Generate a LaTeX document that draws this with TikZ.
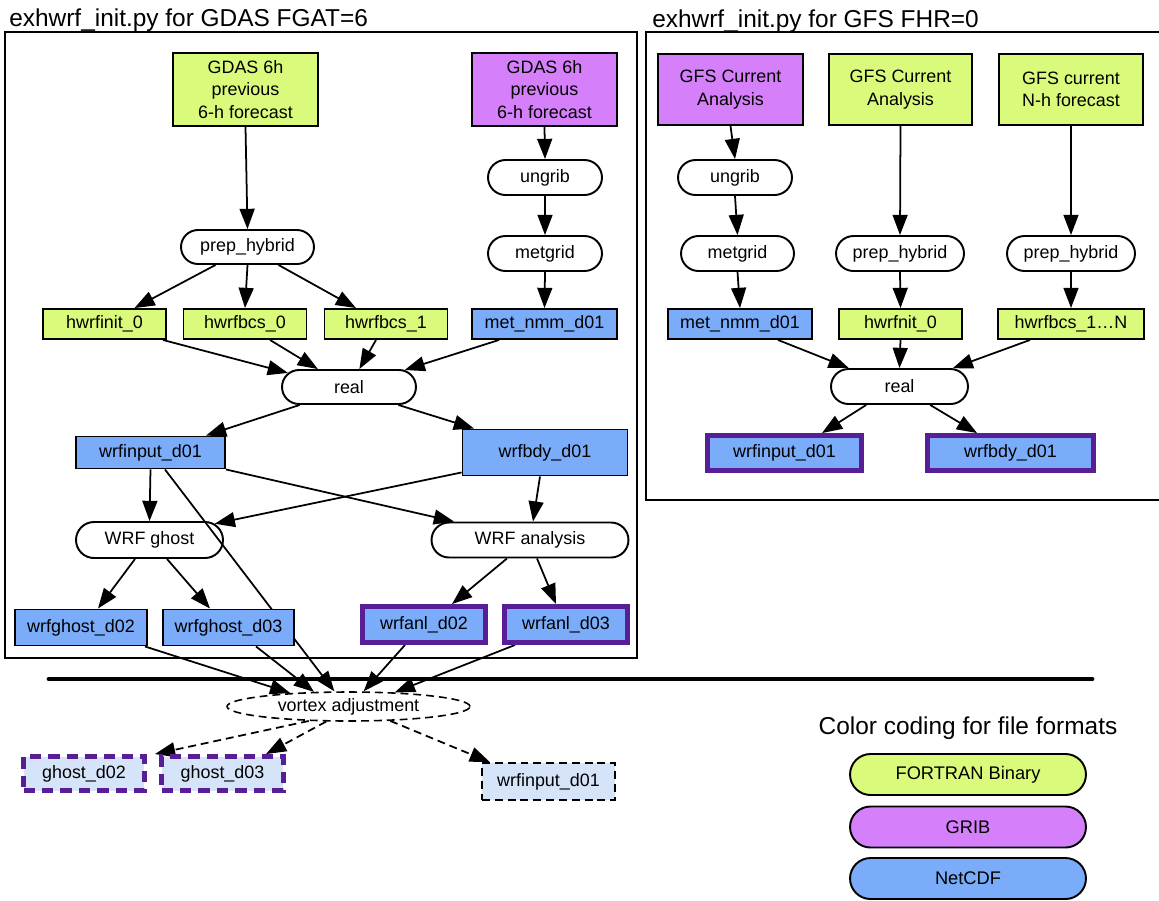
\documentclass[tikz,border=0pt]{standalone}
\usepackage{fontspec}
\setmainfont{Liberation Sans}
\usetikzlibrary{arrows.meta,shapes.misc,shapes.geometric,backgrounds}
\definecolor{fgreen}{RGB}{217,250,122}
\definecolor{fgrib}{RGB}{213,128,250}
\definecolor{fcdf}{RGB}{122,172,250}
\definecolor{fpale}{RGB}{214,228,250}
\definecolor{fpurp}{RGB}{88,30,150}
\begin{document}
\begin{tikzpicture}[x=0.02cm, y=-0.02cm, >={Triangle[length=11.5pt,width=8.5pt]},
    every node/.style={font=\fontsize{10.2}{12.7}\selectfont, inner sep=0pt},
    file/.style={rectangle, draw, line width=1.1pt, align=center, minimum height=0.6cm},
    proc/.style={rounded rectangle, draw, line width=1.1pt, minimum height=0.7cm},
    hot/.style={draw=fpurp, line width=2.8pt},
    conn/.style={->, line width=1pt},
    dconn/.style={->, line width=1pt, dash pattern=on 4.5pt off 2.8pt},
    legend/.style={rounded rectangle, draw, line width=1.1pt, minimum width=4.72cm, minimum height=0.82cm, font=\fontsize{10.4}{12}\selectfont},
    ttl/.style={anchor=base west, font=\fontsize{13.9}{16}\selectfont}]
    \useasboundingbox (0,0) rectangle (1159,900);
    % frames and titles
    \node[ttl] (ttlL) at (9,26) {exhwrf\_init.py for GDAS FGAT=6};
    \node[ttl] (ttlR) at (652,27) {exhwrf\_init.py for GFS FHR=0};
    \draw[line width=0.9pt] (5,32) rectangle (637,658);
    \draw[line width=0.9pt] (1165,32) -- (646,32) -- (646,500) -- (1165,500);
    % GDAS FGAT=6
    \node[file, fill=fgreen, minimum width=2.9cm, minimum height=1.46cm] (gdasA) at (245.5,89.5) {GDAS 6h\\previous\\6-h forecast};
    \node[file, fill=fgrib, minimum width=2.9cm, minimum height=1.46cm] (gdasB) at (544.5,89.5) {GDAS 6h\\previous\\6-h forecast};
    \node[proc, minimum width=2.28cm] (ungribL) at (545,177.5) {ungrib};
    \node[proc, minimum width=2.28cm] (metgridL) at (545,253.5) {metgrid};
    \node[proc, minimum width=2.66cm, minimum height=0.68cm] (prepL) at (247.5,247) {prep\_hybrid};
    \node[file, fill=fgreen, minimum width=2.46cm] (hinitL) at (104.5,324) {hwrfinit\_0};
    \node[file, fill=fgreen, minimum width=2.46cm] (bcs0L) at (245,324) {hwrfbcs\_0};
    \node[file, fill=fgreen, minimum width=2.46cm] (bcs1L) at (386,324) {hwrfbcs\_1};
    \node[file, fill=fcdf, minimum width=2.9cm] (metL) at (544.5,324) {met\_nmm\_d01};
    \node[proc, minimum width=2.68cm, minimum height=0.68cm] (realL) at (349,387) {real};
    \node[file, fill=fcdf, minimum width=2.98cm, minimum height=0.64cm] (winL) at (150.5,452.5) {wrfinput\_d01};
    \node[file, fill=fcdf, minimum width=3.3cm, minimum height=0.92cm] (bdyL) at (545,452.5) {wrfbdy\_d01};
    \node[proc, minimum width=2.94cm, minimum height=0.72cm] (ghost) at (149.5,540) {WRF ghost};
    \node[proc, minimum width=3.94cm] (anal) at (530,540) {WRF analysis};
    \node[file, fill=fcdf, minimum width=2.64cm, minimum height=0.72cm] (wg02) at (81,627.5) {wrfghost\_d02};
    \node[file, fill=fcdf, minimum width=2.62cm, minimum height=0.72cm] (wg03) at (228.5,627.5) {wrfghost\_d03};
    \node[file, hot, fill=fcdf, minimum width=2.46cm, minimum height=0.72cm] (anl02) at (424,624.5) {wrfanl\_d02};
    \node[file, hot, fill=fcdf, minimum width=2.46cm, minimum height=0.72cm] (anl03) at (566,624.5) {wrfanl\_d03};
    % vortex adjustment
    \node[ellipse, draw, line width=0.9pt, dash pattern=on 4.5pt off 2.8pt, minimum width=4.86cm, minimum height=0.58cm] (vortex) at (348.5,706.5) {vortex adjustment};
    \node[file, fill=fpale, draw=fpurp, line width=2.8pt, dash pattern=on 6.5pt off 4pt, minimum width=2.42cm, minimum height=0.68cm] (gd02) at (84,773.5) {ghost\_d02};
    \node[file, fill=fpale, draw=fpurp, line width=2.8pt, dash pattern=on 6.5pt off 4pt, minimum width=2.44cm, minimum height=0.68cm] (gd03) at (222.5,773.5) {ghost\_d03};
    \node[file, fill=fpale, line width=0.9pt, dash pattern=on 4.5pt off 2.8pt, minimum width=2.66cm, minimum height=0.74cm] (winD) at (548.5,781.5) {wrfinput\_d01};
    % GFS FHR=0
    \node[file, fill=fgrib, minimum width=2.9cm, minimum height=1.42cm] (gfsP) at (730.5,89.5) {GFS Current\\Analysis};
    \node[file, fill=fgreen, minimum width=2.86cm, minimum height=1.42cm] (gfsG) at (900.5,89.5) {GFS Current\\Analysis};
    \node[file, fill=fgreen, minimum width=2.88cm, minimum height=1.42cm] (gfsN) at (1071,89.5) {GFS current\\N-h forecast};
    \node[proc, minimum width=2.28cm] (ungribR) at (735,177.5) {ungrib};
    \node[proc, minimum width=2.26cm] (metgridR) at (737.5,253.5) {metgrid};
    \node[proc, minimum width=2.56cm] (prepR1) at (900,253.5) {prep\_hybrid};
    \node[proc, minimum width=2.56cm] (prepR2) at (1071,253.5) {prep\_hybrid};
    \node[file, fill=fcdf, minimum width=2.88cm] (metR) at (740,324) {met\_nmm\_d01};
    \node[file, fill=fgreen, minimum width=2.46cm] (hinitR) at (900.5,324) {hwrfnit\_0};
    \node[file, fill=fgreen, minimum width=2.92cm] (bcsR) at (1071,324) {hwrfbcs\_1…N};
    \node[proc, minimum width=2.74cm] (realR) at (899.5,386.5) {real};
    \node[file, hot, fill=fcdf, minimum width=3.08cm, minimum height=0.7cm] (winR) at (784.5,453) {wrfinput\_d01};
    \node[file, hot, fill=fcdf, minimum width=3.32cm, minimum height=0.7cm] (bdyR) at (1010.5,453) {wrfbdy\_d01};
    % legend
    \node[anchor=base, font=\fontsize{13.9}{16}\selectfont] (legttl) at (968,734) {Color coding for file formats};
    \foreach \c/\t/\y in {fgreen/FORTRAN Binary/774.5, fgrib/GRIB/827, fcdf/NetCDF/878.5}
        \node[legend, fill=\c] (leg\t) at (968,\y) {\t};
    \begin{pgfonlayer}{background}
        \draw[line width=2.8pt, line cap=round] (49,679) -- (1092,679);
        \foreach \a/\b in {gdasA/prepL, gdasB/ungribL, ungribL/metgridL, metgridL/metL, prepL/bcs0L, winL/ghost,
                           gfsP/ungribR, ungribR/metgridR, metgridR/metR, gfsG/prepR1, prepR1/hinitR, hinitR/realR, gfsN/prepR2, prepR2/bcsR}
            \draw[conn] (\a.south) -- (\b.north);
        \draw[conn] ([xshift=-0.64cm]prepL.south) -- ([xshift=0.6cm]hinitL.north);
        \draw[conn] ([xshift=0.62cm]prepL.south) -- ([xshift=-0.6cm]bcs1L.north);
        \draw[conn] ([xshift=1.17cm]hinitL.south) -- (realL.167);
        \draw[conn] ([xshift=0.5cm]bcs0L.south) -- (realL.150);
        \draw[conn] ([xshift=-0.2cm]bcs1L.south) -- (realL.60);
        \draw[conn] ([xshift=-0.91cm]metL.south) -- (realL.17);
        \draw[conn] (realL.200) -- ([xshift=1.11cm]winL.north);
        \draw[conn] (realL.-20) -- ([xshift=-1.42cm]bdyL.north);
        \draw[conn] (winL.south east) -- ([xshift=-1.52cm]anal.north);
        \draw[conn] ([yshift=0.08cm]bdyL.south west) -- (ghost.14);
        \draw[conn] ([xshift=-0.1cm]bdyL.south) -- ([xshift=0.06cm]anal.north);
        \draw[conn] ([xshift=-0.29cm]ghost.south) -- ([xshift=0.34cm]wg02.north);
        \draw[conn] ([xshift=0.35cm]ghost.south) -- ([xshift=-0.37cm]wg03.north);
        \draw[conn] ([xshift=-0.46cm]anal.south) -- ([xshift=0.56cm]anl02.north);
        \draw[conn] ([xshift=0.14cm]anal.south) -- ([xshift=-0.2cm]anl03.north);
        % into the vortex adjustment
        \draw[conn] ([xshift=1.28cm]wg02.south) -- (vortex.167);
        \draw[conn] ([xshift=0.55cm]wg03.south) -- (vortex.157);
        \draw[conn] ([xshift=0.29cm]winL.south) -- (vortex.133);
        \draw[conn] ([xshift=-0.38cm]anl02.south) -- (vortex.45);
        \draw[conn] ([xshift=-1.02cm]anl03.south) -- (vortex.17);
        \draw[dconn] (vortex.200) -- ([xshift=0.16cm]gd02.north east);
        \draw[dconn] (vortex.214) -- ([xshift=0.87cm]gd03.north);
        \draw[dconn] (vortex.-19) -- ([xshift=-1.17cm]winD.north);
        % GFS into real
        \draw[conn] ([xshift=0.76cm]metR.south) -- (realR.160);
        \draw[conn] ([xshift=-0.82cm]bcsR.south) -- (realR.19);
        \draw[conn] (realR.209) -- ([xshift=0.75cm]winR.north);
        \draw[conn] (realR.-31) -- ([xshift=-0.67cm]bdyR.north);
    \end{pgfonlayer}
\end{tikzpicture}
\end{document}
